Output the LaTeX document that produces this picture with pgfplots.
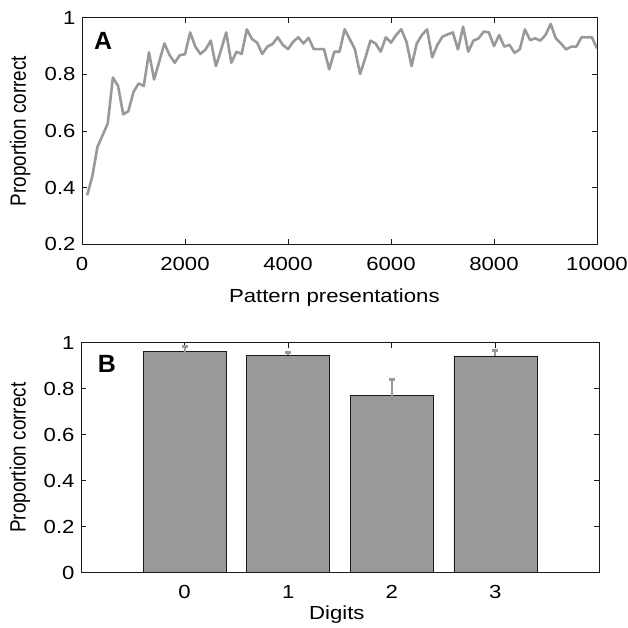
\documentclass[border=0pt]{standalone}
\usepackage{graphicx}
\usepackage{pgfplots}
\pgfplotsset{compat=1.18}
\usepackage{pgfplotstable}
\usepackage{fontspec}
\setmainfont{Liberation Sans}
\definecolor{lgray}{HTML}{999999}
\definecolor{axcol}{HTML}{1A1A1A}
\newcommand{\hs}[1]{\scalebox{1.17}[1]{#1}}
\newcommand{\vs}[1]{\scalebox{1}[1.17]{#1}}

\pgfplotstableread{
x y
100 0.373
200 0.44
300 0.544
400 0.585
500 0.627
600 0.789
700 0.759
800 0.659
900 0.670
1000 0.738
1100 0.768
1200 0.759
1300 0.878
1400 0.782
1500 0.845
1600 0.909
1700 0.868
1800 0.841
1900 0.868
2000 0.871
2100 0.948
2200 0.898
2300 0.872
2400 0.888
2500 0.919
2600 0.829
2700 0.886
2800 0.948
2900 0.841
3000 0.88
3100 0.872
3200 0.959
3300 0.925
3400 0.912
3500 0.872
3600 0.898
3700 0.907
3800 0.931
3900 0.904
4000 0.889
4100 0.915
4200 0.931
4300 0.909
4400 0.929
4500 0.889
4600 0.889
4700 0.889
4800 0.818
4900 0.88
5000 0.88
5100 0.959
5200 0.924
5300 0.888
5400 0.801
5500 0.857
5600 0.919
5700 0.909
5800 0.88
5900 0.931
6000 0.912
6100 0.939
6200 0.959
6300 0.915
6400 0.829
6500 0.909
6600 0.939
6700 0.959
6800 0.86
6900 0.904
7000 0.933
7100 0.941
7200 0.948
7300 0.888
7400 0.968
7500 0.88
7600 0.919
7700 0.927
7800 0.951
7900 0.948
8000 0.90
8100 0.939
8200 0.898
8300 0.904
8400 0.876
8500 0.888
8600 0.959
8700 0.921
8800 0.927
8900 0.919
9000 0.939
9100 0.978
9200 0.927
9300 0.909
9400 0.888
9500 0.898
9600 0.898
9700 0.931
9800 0.931
9900 0.931
10000 0.892
}\learning

\pgfplotstableread{
x y e
0 0.961 0.022
1 0.946 0.011
2 0.770 0.068
3 0.943 0.025
}\digits

\pgfplotsset{
  matlab/.style={
    scale only axis,
    anchor=south west,
    axis line style={axcol, line width=0.9bp},
    tick style={axcol, line width=0.9bp},
    tick align=inside,
    major tick length=5bp,
    xtick pos=both, ytick pos=both,
    scaled x ticks=false, scaled y ticks=false,
    /pgf/number format/assume math mode=true,
    tick label style={font=\fontsize{19}{22}\selectfont},
    xticklabel style={yshift=-9bp},
    yticklabel style={xshift=-3bp},
  }
}

\begin{document}
\begin{tikzpicture}
\path[use as bounding box] (0,0) rectangle (628bp,628bp);

\begin{axis}[matlab,
  at={(82bp,383.6bp)},
  width=515bp, height=226.7bp,
  xmin=0, xmax=10000, ymin=0.2, ymax=1,
  xtick={0,2000,4000,6000,8000,10000},
  xticklabels={\hs{0},\hs{2000},\hs{4000},\hs{6000},\hs{8000},\hs{10000}},
  ytick={0.2,0.4,0.6,0.8,1},
  yticklabels={\hs{0.2},\hs{0.4},\hs{0.6},\hs{0.8},\hs{1}},
  xlabel={\hs{Pattern presentations}},
  ylabel={\vs{Proportion correct}},
  every axis x label/.style={at={(axis description cs:0.49,-0.235)}, anchor=center, font=\fontsize{19}{22}\selectfont},
  every axis y label/.style={at={(axis description cs:-0.12,0.5)}, rotate=90, anchor=center, font=\fontsize{19}{22}\selectfont},
]
\addplot[lgray, line width=2.6bp, line join=round] table[x=x, y=y] {\learning};
\node[font=\fontsize{25}{28}\selectfont\bfseries] at (axis description cs:0.041,0.897) {A};
\end{axis}

\begin{axis}[matlab,
  at={(81bp,55.3bp)},
  width=518bp, height=230bp,
  xmin=-1, xmax=4, ymin=0, ymax=1,
  xtick={0,1,2,3},
  xticklabels={\hs{0},\hs{1},\hs{2},\hs{3}},
  ytick={0,0.2,0.4,0.6,0.8,1},
  yticklabels={\hs{0},\hs{0.2},\hs{0.4},\hs{0.6},\hs{0.8},\hs{1}},
  xlabel={\hs{Digits}},
  ylabel={\vs{Proportion correct}},
  every axis x label/.style={at={(axis description cs:0.494,-0.183)}, anchor=center, font=\fontsize{19}{22}\selectfont},
  every axis y label/.style={at={(axis description cs:-0.118,0.5)}, rotate=90, anchor=center, font=\fontsize{19}{22}\selectfont},
]
\addplot[ybar, bar width=0.8, fill=lgray, draw=axcol, line width=0.6bp,
  error bars/.cd, y dir=plus, y explicit,
  error bar style={lgray, line width=2bp},
  error mark options={lgray, rotate=90, mark size=3bp, line width=3bp}]
  table[x=x, y=y, y error=e] {\digits};
\node[font=\fontsize{25}{28}\selectfont\bfseries] at (axis description cs:0.05,0.907) {B};
\end{axis}
\end{tikzpicture}
\end{document}
